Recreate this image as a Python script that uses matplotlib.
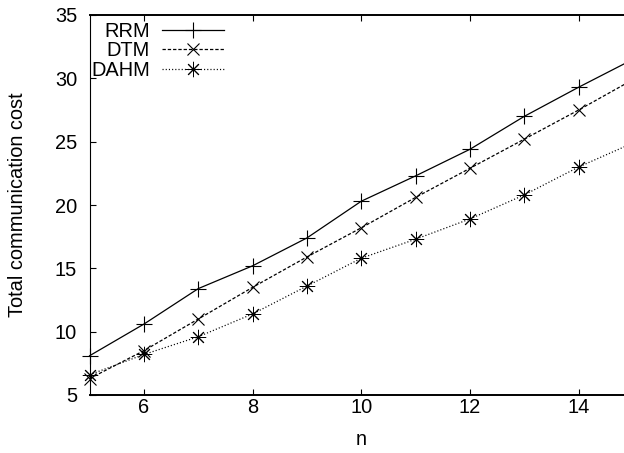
import numpy as np
import matplotlib
matplotlib.use("Agg")
from matplotlib import pyplot as plt

# data
n = [5, 6, 7, 8, 9, 10, 11, 12, 13, 14, 15]
rrm = [8.1, 10.6, 13.4, 15.2, 17.4, 20.3, 22.3, 24.4, 27.0, 29.3, 31.5]
dtm = [6.3, 8.5, 11.0, 13.5, 15.9, 18.2, 20.6, 22.9, 25.2, 27.5, 29.9]
dahm = [6.6, 8.2, 9.6, 11.4, 13.6, 15.8, 17.3, 18.9, 20.8, 23.0, 24.9]
xticks = [6, 8, 10, 12, 14]
yticks = [5, 10, 15, 20, 25, 30, 35]

plt.rcParams['font.family'] = ['Liberation Sans', 'DejaVu Sans']
plt.rcParams['font.size'] = 14.4
plt.rcParams['lines.scale_dashes'] = False

fig = plt.figure(figsize=(6.24, 4.53), dpi=100)
# plot area runs a little past the right edge, as in the reference
ax = fig.add_axes([89.6 / 624, 1 - 395 / 453, (633 - 89.6) / 624, 380 / 453])

ax.plot(n, rrm, color='black', lw=0.9, ls='-', marker='+', ms=11, mew=0.8,
        label='RRM', clip_on=False)
ax.plot(n, dtm, color='black', lw=0.9, dashes=(2.4, 1.4), marker='x', ms=8.5, mew=0.8,
        label='DTM', clip_on=False)
ax.plot(n, dahm, color='black', lw=0.9, dashes=(0.8, 1.5), marker=(8, 2, 0), ms=11, mew=0.7,
        label='DAHM', clip_on=False)

ax.set_xlim(5, 15)
ax.set_ylim(5, 35)
ax.set_xticks(xticks)
ax.set_yticks(yticks)
ax.tick_params(direction='in', length=4, width=0.8, top=True, right=True, colors='black')
ax.tick_params(axis='y', pad=9)
ax.tick_params(axis='x', pad=2)
for side in ['top', 'bottom']:
    ax.spines[side].set_linewidth(1.4)
ax.spines['left'].set_linewidth(0.8)
ax.spines['right'].set_linewidth(1.0)

ax.set_xlabel('n')
ax.set_ylabel('Total communication cost')
ax.xaxis.set_label_coords(0.5, -(430 - 395) / 380)
ax.yaxis.set_label_coords(-(89.6 - 27) / 543.4, 0.5)

ax.legend(loc='upper left', bbox_to_anchor=(91 / 624, 1 - 22 / 453),
          bbox_transform=fig.transFigure, frameon=False, markerfirst=False,
          borderpad=0, borderaxespad=0, handlelength=3.1, handletextpad=0.6,
          labelspacing=0.02)

fig.savefig('out.png', dpi=100)
